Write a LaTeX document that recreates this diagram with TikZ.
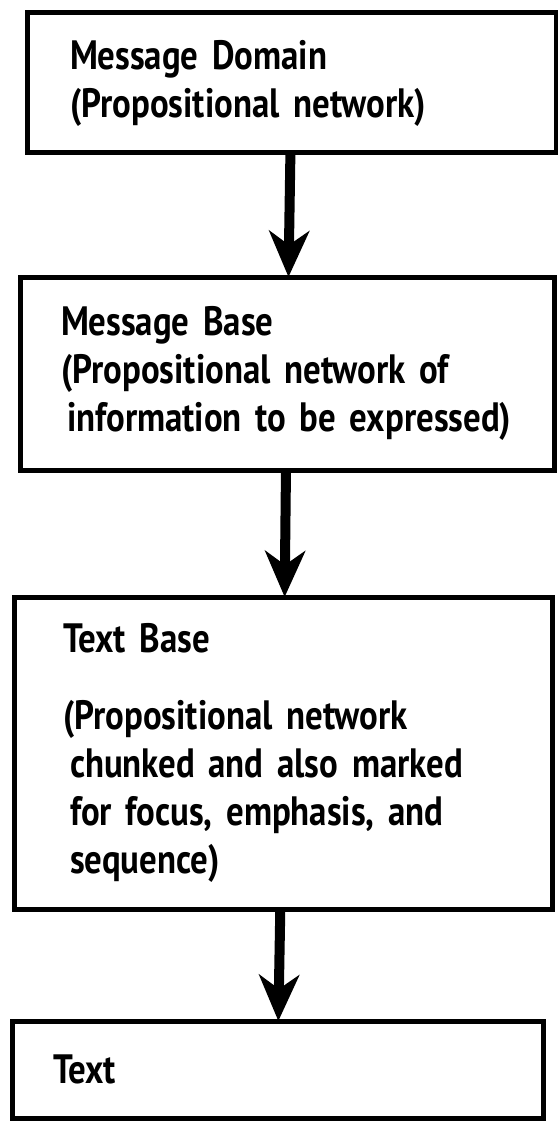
\documentclass[tikz,border=0pt]{standalone}
\usepackage{fontspec}
\setmainfont{PT Sans}[FakeStretch=0.85]
\usetikzlibrary{arrows.meta, positioning}

\begin{document}
\begin{tikzpicture}[
    x=1pt, y=1pt,
    level/.style={rectangle, draw=black, line width=5pt, outer sep=0pt, align=left, inner xsep=43pt, inner ysep=6pt, font=\fontsize{41}{48}\selectfont\bfseries},
    arrow/.style={-{Stealth[length=46pt, width=40pt, inset=14pt]}, line width=10pt}
]
\useasboundingbox (0,0) rectangle (557,-1126);

\node[level, anchor=north west, text width=443pt, minimum height=140pt] (domain) at (27,-13) {Message Domain\\(Propositional network)};
\node[level, below=124pt of domain.south west, anchor=north west, xshift=-7pt, inner xsep=41pt, text width=452pt, minimum height=193pt] (msgbase) {Message Base\\(Propositional network of\\\hspace{6pt}information to be expressed)};
\node[level, below=127pt of msgbase.south west, anchor=north west, xshift=-6pt, inner xsep=49pt, text width=440pt, minimum height=312pt] (textbase) {Text Base\\[29pt](Propositional network\\\hspace{7pt}chunked and also marked\\\hspace{7pt}for focus, emphasis, and\\\hspace{7pt}sequence)};
\node[level, below=112pt of textbase.south west, anchor=north west, xshift=-2pt, inner xsep=41pt, text width=449pt, minimum height=97pt] (text) {Text};

\draw[arrow] (domain) -- (msgbase);
\draw[arrow] (msgbase) -- (textbase);
\draw[arrow] (textbase) -- (text);
\end{tikzpicture}
\end{document}
